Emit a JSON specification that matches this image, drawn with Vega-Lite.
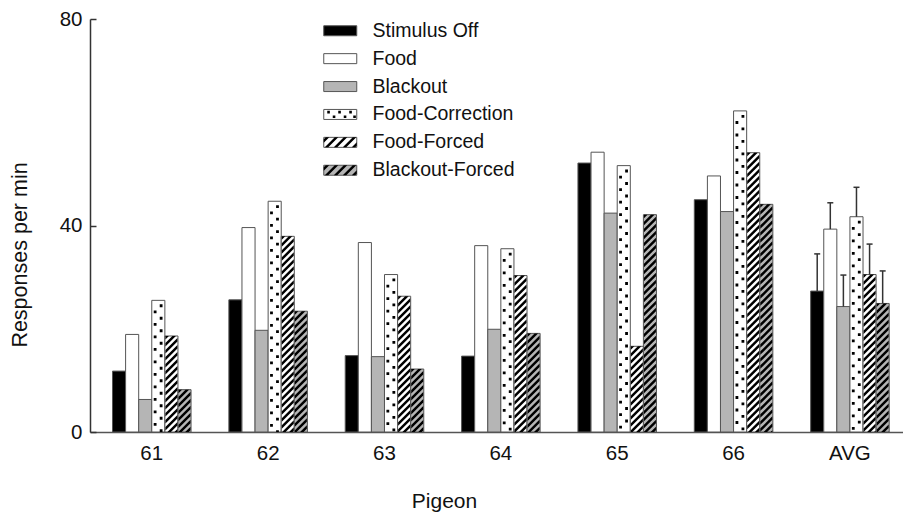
{
  "$schema": "https://vega.github.io/schema/vega-lite/v6.json",
  "width": 813,
  "height": 413,
  "autosize": {"type": "none"},
  "padding": {"left": 90, "top": 19, "right": 0, "bottom": 83},
  "config": {
    "font": "Liberation Sans",
    "view": {"stroke": null},
    "axis": {"grid": false, "labelColor": "#111", "titleColor": "#111", "titleFontWeight": "normal"}
  },
  "data": {
    "values": [
      {"pigeon": "61", "condition": "Stimulus Off", "value": 11.8},
      {"pigeon": "61", "condition": "Food", "value": 18.9},
      {"pigeon": "61", "condition": "Blackout", "value": 6.3},
      {"pigeon": "61", "condition": "Food-Correction", "value": 25.5},
      {"pigeon": "61", "condition": "Food-Forced", "value": 18.6},
      {"pigeon": "61", "condition": "Blackout-Forced", "value": 8.2},
      {"pigeon": "62", "condition": "Stimulus Off", "value": 25.6},
      {"pigeon": "62", "condition": "Food", "value": 39.6},
      {"pigeon": "62", "condition": "Blackout", "value": 19.7},
      {"pigeon": "62", "condition": "Food-Correction", "value": 44.7},
      {"pigeon": "62", "condition": "Food-Forced", "value": 37.9},
      {"pigeon": "62", "condition": "Blackout-Forced", "value": 23.4},
      {"pigeon": "63", "condition": "Stimulus Off", "value": 14.8},
      {"pigeon": "63", "condition": "Food", "value": 36.7},
      {"pigeon": "63", "condition": "Blackout", "value": 14.6},
      {"pigeon": "63", "condition": "Food-Correction", "value": 30.5},
      {"pigeon": "63", "condition": "Food-Forced", "value": 26.3},
      {"pigeon": "63", "condition": "Blackout-Forced", "value": 12.2},
      {"pigeon": "64", "condition": "Stimulus Off", "value": 14.7},
      {"pigeon": "64", "condition": "Food", "value": 36.1},
      {"pigeon": "64", "condition": "Blackout", "value": 19.9},
      {"pigeon": "64", "condition": "Food-Correction", "value": 35.5},
      {"pigeon": "64", "condition": "Food-Forced", "value": 30.3},
      {"pigeon": "64", "condition": "Blackout-Forced", "value": 19.1},
      {"pigeon": "65", "condition": "Stimulus Off", "value": 52.1},
      {"pigeon": "65", "condition": "Food", "value": 54.2},
      {"pigeon": "65", "condition": "Blackout", "value": 42.4},
      {"pigeon": "65", "condition": "Food-Correction", "value": 51.6},
      {"pigeon": "65", "condition": "Food-Forced", "value": 16.6},
      {"pigeon": "65", "condition": "Blackout-Forced", "value": 42.1},
      {"pigeon": "66", "condition": "Stimulus Off", "value": 45.0},
      {"pigeon": "66", "condition": "Food", "value": 49.6},
      {"pigeon": "66", "condition": "Blackout", "value": 42.7},
      {"pigeon": "66", "condition": "Food-Correction", "value": 62.2},
      {"pigeon": "66", "condition": "Food-Forced", "value": 54.1},
      {"pigeon": "66", "condition": "Blackout-Forced", "value": 44.1},
      {"pigeon": "AVG", "condition": "Stimulus Off", "value": 27.3, "upper": 34.5},
      {"pigeon": "AVG", "condition": "Food", "value": 39.3, "upper": 44.4},
      {"pigeon": "AVG", "condition": "Blackout", "value": 24.3, "upper": 30.4},
      {"pigeon": "AVG", "condition": "Food-Correction", "value": 41.7, "upper": 47.4},
      {"pigeon": "AVG", "condition": "Food-Forced", "value": 30.5, "upper": 36.4},
      {"pigeon": "AVG", "condition": "Blackout-Forced", "value": 24.9, "upper": 31.2}
    ]
  },
  "encoding": {
    "x": {
      "field": "pigeon", "type": "nominal",
      "scale": {"paddingInner": 0.325, "paddingOuter": 0.156, "align": 0.62},
      "axis": {
        "title": "Pigeon", "ticks": false, "labelAngle": 0, "labelPadding": 27, "labelBaseline": "alphabetic",
        "labelFontSize": 20.5, "titleFontSize": 21, "titleX": 354, "titleY": 75.3, "titleBaseline": "alphabetic",
        "titleAlign": "center", "titleAnchor": null, "domainColor": "#555", "domainWidth": 1.5
      }
    },
    "xOffset": {
      "field": "condition", "type": "nominal",
      "scale": {"domain": ["Stimulus Off", "Food", "Blackout", "Food-Correction", "Food-Forced", "Blackout-Forced"], "paddingInner": 0, "paddingOuter": 0}
    },
    "y": {
      "field": "value", "type": "quantitative",
      "scale": {"domain": [0, 80], "nice": false},
      "axis": {
        "values": [0, 40, 80], "tickSize": -6, "labelPadding": 14, "labelFontSize": 20.5,
        "title": "Responses per min", "titleFontSize": 21.5, "titleX": -63.3, "titleY": 235.5,
        "titleBaseline": "alphabetic", "titleAlign": "center", "titleAnchor": null, "titleAngle": -90,
        "domainColor": "#333", "domainWidth": 1.5, "tickColor": "#333", "tickWidth": 1.5
      }
    }
  },
  "layer": [
    {
      "mark": {"type": "bar", "stroke": "#555", "strokeWidth": 1},
      "encoding": {
        "fill": {
          "field": "condition", "type": "nominal",
          "scale": {
            "domain": ["Stimulus Off", "Food", "Blackout", "Food-Correction", "Food-Forced", "Blackout-Forced"],
            "range": ["#000000", "#ffffff", "#b5b5b5", "#ffffff", "#ffffff", "#b5b5b5"]
          },
          "legend": {
            "title": null, "orient": "none", "legendX": 240.5, "legendY": 2, "padding": 0,
            "symbolType": "M-16.5,-5h33v10h-33z", "symbolSize": 4, "symbolStrokeColor": "#555", "symbolStrokeWidth": 1,
            "labelFontSize": 19.5, "labelOffset": 22.5, "labelColor": "#111", "rowPadding": 6.9, "zindex": 0
          }
        }
      }
    },
    {
      "transform": [{"filter": {"field": "condition", "oneOf": ["Food-Forced", "Blackout-Forced"]}}],
      "mark": {
        "type": "point", "filled": true, "color": "#000", "opacity": 1, "size": 4, "clip": true, "strokeWidth": 0,
        "shape": "M-6,0v3.5L-2.5,0zM-6,7v3.5L4.5,0H1zM-6,14v3.5l12,-12v-3.5zM-6,21v3.5l12,-12v-3.5zM-6,28v3.5l12,-12v-3.5zM-6,35v3.5l12,-12v-3.5zM-6,42v3.5l12,-12v-3.5zM-6,49v3.5l12,-12v-3.5zM-6,56v3.5l12,-12v-3.5zM-6,63v3.5l12,-12v-3.5zM-6,70v3.5l12,-12v-3.5zM-6,77v3.5l12,-12v-3.5zM-6,84v3.5l12,-12v-3.5zM-6,91v3.5l12,-12v-3.5zM-6,98v3.5l12,-12v-3.5zM-6,105v3.5l12,-12v-3.5zM-6,112v3.5l12,-12v-3.5zM-6,119v3.5l12,-12v-3.5zM-6,126v3.5l12,-12v-3.5zM-6,133v3.5l12,-12v-3.5zM-6,140v3.5l12,-12v-3.5zM-6,147v3.5l12,-12v-3.5zM-6,154v3.5l12,-12v-3.5zM-6,161v3.5l12,-12v-3.5zM-6,168v3.5l12,-12v-3.5zM-6,175v3.5l12,-12v-3.5zM-6,182v3.5l12,-12v-3.5zM-6,189v3.5l12,-12v-3.5zM-6,196v3.5l12,-12v-3.5zM-6,203v3.5l12,-12v-3.5zM-6,210v3.5l12,-12v-3.5zM-6,217v3.5l12,-12v-3.5zM-6,224v3.5l12,-12v-3.5zM-6,231v3.5l12,-12v-3.5zM-6,238v3.5l12,-12v-3.5zM-6,245v3.5l12,-12v-3.5zM-6,252v3.5l12,-12v-3.5zM-6,259v3.5l12,-12v-3.5zM-6,266v3.5l12,-12v-3.5zM-6,273v3.5l12,-12v-3.5zM-6,280v3.5l12,-12v-3.5zM-6,287v3.5l12,-12v-3.5zM-6,294v3.5l12,-12v-3.5z"
      },
      "encoding": {}
    },
    {
      "transform": [{"filter": {"field": "condition", "equal": "Food-Correction"}}],
      "mark": {
        "type": "point", "filled": true, "color": "#000", "opacity": 1, "size": 4, "clip": true, "strokeWidth": 0,
        "shape": "M1.4,4h2.8v2.8h-2.8zM1.4,16.5h2.8v2.8h-2.8zM1.4,29h2.8v2.8h-2.8zM1.4,41.5h2.8v2.8h-2.8zM1.4,54h2.8v2.8h-2.8zM1.4,66.5h2.8v2.8h-2.8zM1.4,79h2.8v2.8h-2.8zM1.4,91.5h2.8v2.8h-2.8zM1.4,104h2.8v2.8h-2.8zM1.4,116.5h2.8v2.8h-2.8zM1.4,129h2.8v2.8h-2.8zM1.4,141.5h2.8v2.8h-2.8zM1.4,154h2.8v2.8h-2.8zM1.4,166.5h2.8v2.8h-2.8zM1.4,179h2.8v2.8h-2.8zM1.4,191.5h2.8v2.8h-2.8zM1.4,204h2.8v2.8h-2.8zM1.4,216.5h2.8v2.8h-2.8zM1.4,229h2.8v2.8h-2.8zM1.4,241.5h2.8v2.8h-2.8zM1.4,254h2.8v2.8h-2.8zM1.4,266.5h2.8v2.8h-2.8zM1.4,279h2.8v2.8h-2.8zM1.4,291.5h2.8v2.8h-2.8zM1.4,304h2.8v2.8h-2.8zM1.4,316.5h2.8v2.8h-2.8zM1.4,329h2.8v2.8h-2.8zM-4.6,10.2h2.8v2.8h-2.8zM-4.6,22.7h2.8v2.8h-2.8zM-4.6,35.2h2.8v2.8h-2.8zM-4.6,47.7h2.8v2.8h-2.8zM-4.6,60.2h2.8v2.8h-2.8zM-4.6,72.7h2.8v2.8h-2.8zM-4.6,85.2h2.8v2.8h-2.8zM-4.6,97.7h2.8v2.8h-2.8zM-4.6,110.2h2.8v2.8h-2.8zM-4.6,122.7h2.8v2.8h-2.8zM-4.6,135.2h2.8v2.8h-2.8zM-4.6,147.7h2.8v2.8h-2.8zM-4.6,160.2h2.8v2.8h-2.8zM-4.6,172.7h2.8v2.8h-2.8zM-4.6,185.2h2.8v2.8h-2.8zM-4.6,197.7h2.8v2.8h-2.8zM-4.6,210.2h2.8v2.8h-2.8zM-4.6,222.7h2.8v2.8h-2.8zM-4.6,235.2h2.8v2.8h-2.8zM-4.6,247.7h2.8v2.8h-2.8zM-4.6,260.2h2.8v2.8h-2.8zM-4.6,272.7h2.8v2.8h-2.8zM-4.6,285.2h2.8v2.8h-2.8zM-4.6,297.7h2.8v2.8h-2.8zM-4.6,310.2h2.8v2.8h-2.8zM-4.6,322.7h2.8v2.8h-2.8z"
      },
      "encoding": {}
    },
    {
      "transform": [{"filter": {"field": "upper", "valid": true}}],
      "mark": {"type": "rule", "color": "#333", "strokeWidth": 1.5},
      "encoding": {"y2": {"field": "upper"}}
    },
    {
      "transform": [{"filter": {"field": "upper", "valid": true}}],
      "mark": {"type": "tick", "color": "#333", "size": 6, "thickness": 1.5, "opacity": 1, "orient": "horizontal"},
      "encoding": {"y": {"field": "upper", "type": "quantitative"}}
    },
    {
      "mark": {"type": "point", "filled": true, "color": "#000", "opacity": 0, "size": 4},
      "encoding": {
        "shape": {
          "field": "condition", "type": "nominal",
          "scale": {
            "domain": ["Stimulus Off", "Food", "Blackout", "Food-Correction", "Food-Forced", "Blackout-Forced", "zz"],
            "range": [
              "M0,0h0.01v0.01h-0.01z",
              "M0,0h0.01v0.01h-0.01z",
              "M0,0h0.01v0.01h-0.01z",
              "M-13,-3.6h2.6v2.6h-2.6zM-2,-3.6h2.6v2.6h-2.6zM9,-3.6h2.6v2.6h-2.6zM-7.5,1h2.6v2.6h-2.6zM3.5,1h2.6v2.6h-2.6zM13,1h2.6v2.6h-2.6z",
              "M-16.5,-3l2,-2h3.5l-5.5,5.5zM-15.5,5l10,-10h3.5l-10,10zM-6.5,5l10,-10h3.5l-10,10zM2.5,5l10,-10h3.5l-10,10zM11.5,5l5,-5v3.5l-1.5,1.5z",
              "M-16.5,-3l2,-2h3.5l-5.5,5.5zM-15.5,5l10,-10h3.5l-10,10zM-6.5,5l10,-10h3.5l-10,10zM2.5,5l10,-10h3.5l-10,10zM11.5,5l5,-5v3.5l-1.5,1.5z",
              "M0,0h0.01v0.01h-0.01z"
            ]
          },
          "legend": {
            "title": null, "orient": "none", "legendX": 240.5, "legendY": 2, "padding": 0,
            "symbolSize": 4, "symbolStrokeColor": "transparent", "symbolStrokeWidth": 1, "symbolFillColor": "#000",
            "symbolOpacity": 1, "labelFontSize": 19.5, "labelOffset": 22.5, "labelColor": "transparent",
            "rowPadding": 6.9, "zindex": 2, "values": ["Stimulus Off", "Food", "Blackout", "Food-Correction", "Food-Forced", "Blackout-Forced"]
          }
        }
      }
    }
  ]
}
